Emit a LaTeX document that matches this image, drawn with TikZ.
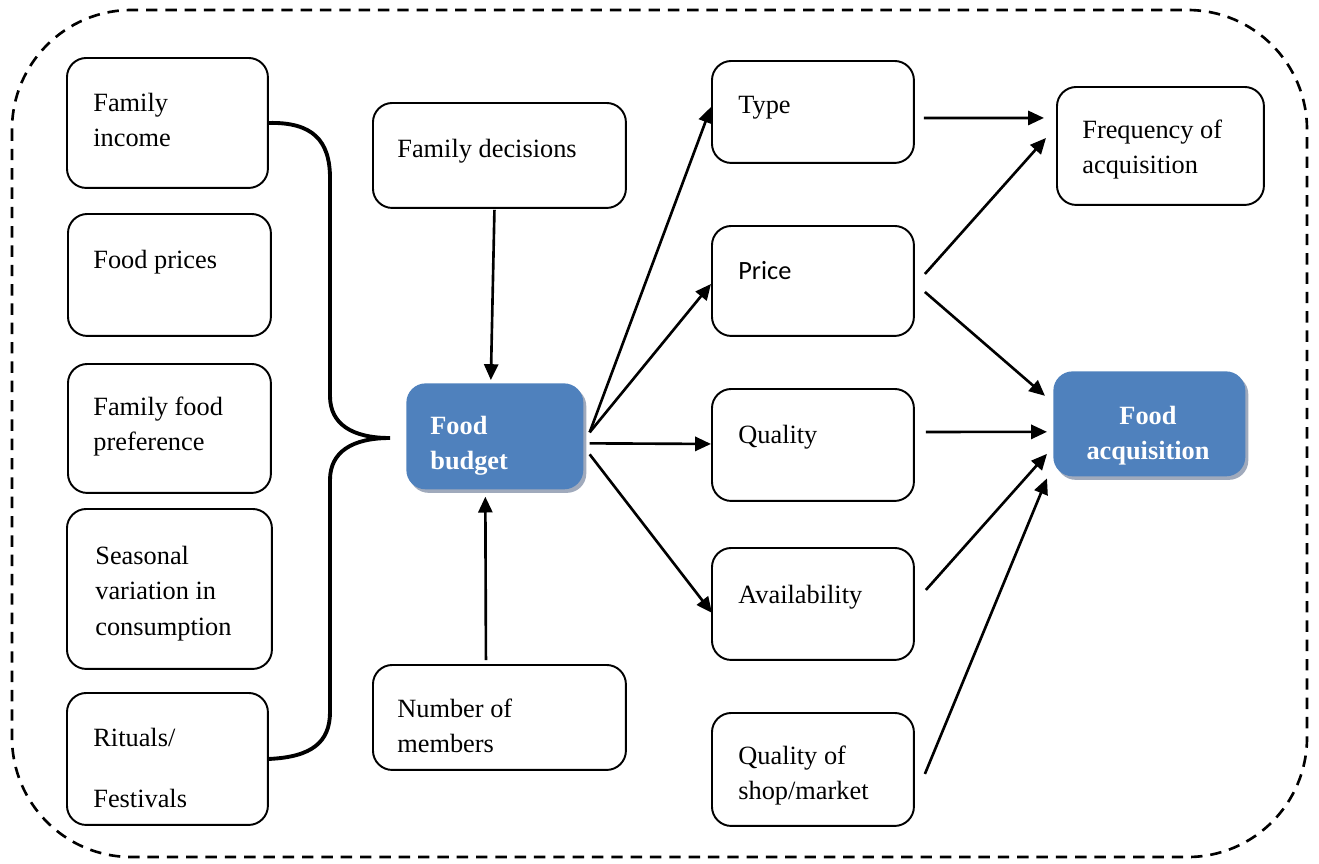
\documentclass[tikz,border=0pt]{standalone}
\usepackage{fontspec}
\setmainfont{Liberation Serif}
\newfontfamily\calibri{Carlito}
\usetikzlibrary{arrows.meta,shadows}
\definecolor{B1}{RGB}{79,129,189}
\definecolor{S1}{RGB}{160,170,188}
\tikzset{
  box/.style={draw, line width=1.1pt, rounded corners=11pt, anchor=north west, inner sep=0pt},
  bluebox/.style={fill=B1, rounded corners=11pt, anchor=north west, inner sep=0pt,
    drop shadow={shadow xshift=1.7pt, shadow yshift=-2pt, fill=S1, opacity=1}},
  txt/.style={anchor=base west, inner sep=0pt, align=left, font=\fontsize{15}{19.5}\selectfont},
  wtxt/.style={anchor=base, inner sep=0pt, align=center, text=white, font=\fontsize{15}{19.5}\selectfont\bfseries},
  arr/.style={line width=1.5pt, -{Triangle[length=9pt,width=8pt]}},
  brace/.style={line width=2.2pt},
}
\begin{document}
\begin{tikzpicture}[x=0.02cm, y=-0.02cm]
  \useasboundingbox (0,0) rectangle (1319,863);
  % outer frame
  \draw[line width=1.5pt, dash pattern=on 6.5pt off 4.5pt, rounded corners=68pt] (12,10) rectangle (1307,857);

  % left column (text nodes sit on the baseline of their last line)
  \node[box, minimum width=4.02cm, minimum height=2.60cm] (inc) at (66,57) {};
  \node[box, minimum width=4.06cm, minimum height=2.44cm] (prices) at (67,213) {};
  \node[box, minimum width=4.06cm, minimum height=2.58cm] (pref) at (67,363) {};
  \node[box, minimum width=4.10cm, minimum height=3.20cm] (season) at (66,508) {};
  \node[box, minimum width=4.02cm, minimum height=2.64cm] (rituals) at (66,692) {};
  \node[txt] (inc-t) at (93,146) {Family\\income};
  \node[txt] (prices-t) at (93,268) {Food prices};
  \node[txt] (pref-t) at (93,450) {Family food\\preference};
  \node[txt, font=\fontsize{15}{20}\selectfont] (season-t) at (95,635) {Seasonal\\variation in\\consumption};
  \node[txt] (rituals-t) at (93,807) {Rituals/\\[15pt]Festivals};

  % middle column
  \node[box, minimum width=5.06cm, minimum height=2.10cm] (decis) at (372,102) {};
  \node[bluebox, minimum width=3.54cm, minimum height=2.12cm] (budget) at (406,383) {};
  \node[box, minimum width=5.06cm, minimum height=2.10cm] (members) at (372,664) {};
  \node[txt] (decis-t) at (397,157) {Family decisions};
  \node[wtxt, anchor=base west, align=left] (budget-t) at (430,469) {Food\\budget};
  \node[txt] (members-t) at (397,752) {Number of\\members};

  % right columns
  \node[box, minimum width=4.04cm, minimum height=2.04cm] (type) at (711,60) {};
  \node[box, minimum width=4.04cm, minimum height=2.20cm] (price) at (711,225) {};
  \node[box, minimum width=4.04cm, minimum height=2.24cm] (quality) at (711,388) {};
  \node[box, minimum width=4.04cm, minimum height=2.24cm] (avail) at (711,547) {};
  \node[box, minimum width=4.04cm, minimum height=2.26cm] (shop) at (711,712) {};
  \node[box, minimum width=4.14cm, minimum height=2.36cm] (freq) at (1056,86) {};
  \node[bluebox, minimum width=3.84cm, minimum height=2.10cm] (acq) at (1053,371) {};
  \node[txt] (type-t) at (738,113) {Type};
  \node[txt, font=\fontsize{15}{19.5}\calibri] (price-t) at (738,279) {Price};
  \node[txt] (quality-t) at (738,443) {Quality};
  \node[txt] (avail-t) at (738,603) {Availability};
  \node[txt] (shop-t) at (738,799) {Quality of\\shop/market};
  \node[txt] (freq-t) at (1082,173) {Frequency of\\acquisition};
  \node[wtxt] (acq-t) at (1148,459) {Food\\acquisition};

  % brace
  \coordinate (tip) at (390,438);
  \draw[brace] (inc.east) .. controls (312,122) and (330,140) .. (330,178) -- (330,396)
    .. controls (330,424) and (352,438) .. (tip)
    .. controls (352,438) and (330,452) .. (330,480) -- (330,712)
    .. controls (330,742) and (312,757) .. (rituals.east);

  % arrows
  \draw[arr] ([shift={(-5,1)}]decis.south) -- ([shift={(-4,-3)}]budget.north);
  \draw[arr] ([shift={(-13.5,-4)}]members.north) -- ([shift={(-9.5,7)}]budget.south);
  \draw[arr] ([shift={(6,-4)}]budget.east) -- ([shift={(0,-5)}]type.west);
  \draw[arr] ([shift={(6,-4)}]budget.east) -- ([shift={(0,3)}]price.west);
  \draw[arr] ([shift={(6,7)}]budget.east) -- ([shift={(0,-1)}]quality.west);
  \draw[arr] ([shift={(6,18)}]budget.east) -- ([shift={(1,9)}]avail.west);
  \draw[arr] ([shift={(9,6)}]type.east) -- ([shift={(-12,-28)}]freq.west);
  \draw[arr] ([shift={(10,-7)}]price.east) -- ([shift={(-10,-8)}]freq.west);
  \draw[arr] ([shift={(10,11)}]price.east) -- ([shift={(-8,-28)}]acq.west);
  \draw[arr] ([shift={(11,-13)}]quality.east) -- ([shift={(-6,8)}]acq.west);
  \draw[arr] ([shift={(11,-14)}]avail.east) -- ([shift={(-6,30)}]acq.west);
  \draw[arr] ([shift={(10,4.5)}]shop.east) -- ([shift={(-6,54.5)}]acq.west);
\end{tikzpicture}
\end{document}
